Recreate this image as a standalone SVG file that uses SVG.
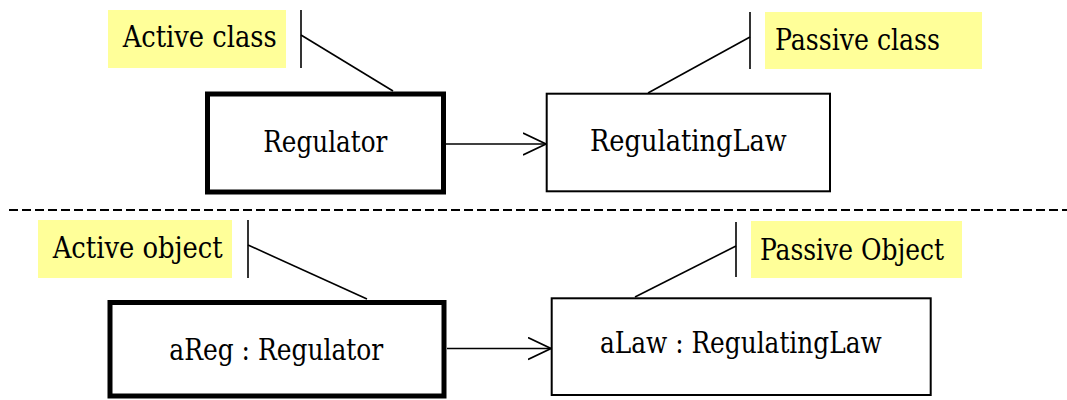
<svg xmlns="http://www.w3.org/2000/svg" width="1067" height="400" viewBox="0 0 1067 400">
<defs>
<style>
text{font-family:'DejaVu Serif Condensed','DejaVu Serif',serif;font-size:29px;fill:#000}
.note{fill:#FFFF99;stroke:none}
.act{fill:#fff;stroke:#000;stroke-width:5}
.pas{fill:#fff;stroke:#000;stroke-width:2}
.ln{stroke:#000;stroke-width:1.6;fill:none}
</style>
<marker id="open" viewBox="0 0 24 24" refX="23" refY="12" markerWidth="24" markerHeight="24" markerUnits="userSpaceOnUse" orient="auto">
<path d="M0,1 L23,12 L0,23" fill="none" stroke="#000" stroke-width="1.6"/>
</marker>
</defs>
<rect width="1067" height="400" fill="#fff"/>
<g id="note-active-class"><rect class="note" x="108" y="10" width="178" height="58"/><text x="122.7" y="47" textLength="154" lengthAdjust="spacingAndGlyphs">Active class</text></g>
<g id="note-passive-class"><rect class="note" x="765" y="12" width="217" height="57"/><text x="775" y="50" textLength="165" lengthAdjust="spacingAndGlyphs">Passive class</text></g>
<g id="note-active-object"><rect class="note" x="38" y="220" width="194" height="58"/><text x="52.7" y="258" textLength="170" lengthAdjust="spacingAndGlyphs">Active object</text></g>
<g id="note-passive-object"><rect class="note" x="751" y="221" width="211" height="57"/><text x="760" y="260" textLength="184" lengthAdjust="spacingAndGlyphs">Passive Object</text></g>
<g id="regulator"><rect class="act" x="207.5" y="94" width="236" height="98"/><text x="263.3" y="152" textLength="124" lengthAdjust="spacingAndGlyphs">Regulator</text></g>
<g id="regulatinglaw"><rect class="pas" x="546.7" y="93.7" width="283.3" height="97.6"/><text x="590" y="151" textLength="196.7" lengthAdjust="spacingAndGlyphs">RegulatingLaw</text></g>
<g id="areg"><rect class="act" x="110" y="302.5" width="334" height="93.5"/><text x="169.3" y="360" textLength="214" lengthAdjust="spacingAndGlyphs">aReg : Regulator</text></g>
<g id="alaw"><rect class="pas" x="551.7" y="298.3" width="379" height="96.7"/><text x="600" y="353" textLength="281.7" lengthAdjust="spacingAndGlyphs">aLaw : RegulatingLaw</text></g>
<g id="connectors">
<line class="ln" x1="301" y1="10" x2="301" y2="68"/>
<line class="ln" x1="301" y1="35" x2="393" y2="91"/>
<line class="ln" x1="750" y1="12" x2="750" y2="69"/>
<line class="ln" x1="750" y1="37" x2="648" y2="93"/>
<line class="ln" x1="248" y1="220" x2="248" y2="278"/>
<line class="ln" x1="248" y1="245" x2="367" y2="299"/>
<line class="ln" x1="736" y1="222" x2="736" y2="277"/>
<line class="ln" x1="736" y1="246" x2="635" y2="297"/>
<line class="ln" x1="446" y1="144" x2="546" y2="144" marker-end="url(#open)"/>
<line class="ln" x1="447" y1="348.5" x2="551" y2="348.5" marker-end="url(#open)"/>
<line x1="9" y1="210" x2="1067" y2="210" stroke="#000" stroke-width="1.8" stroke-dasharray="9,4"/>
</g>
</svg>
